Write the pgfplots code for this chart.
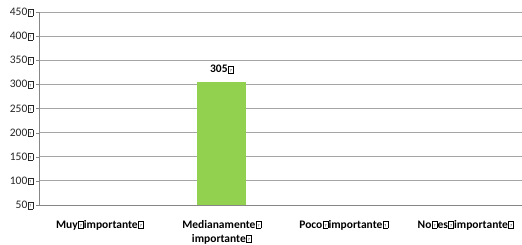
\documentclass[border=0pt]{standalone}
\usepackage{pgfplots}
\pgfplotsset{compat=1.18}
\usepackage{fontspec}
\setmainfont{Carlito}
\definecolor{bargreen}{RGB}{146,208,80}
\definecolor{gridgray}{RGB}{165,165,165}
\definecolor{axgray}{RGB}{134,134,134}
\newcommand\mg{\kern0.4pt{\fboxsep=0pt\fboxrule=0.45pt\fbox{\makebox[4.6pt]{\rule{0pt}{6.4pt}\raisebox{0.8pt}{\fontsize{4.5}{5}\selectfont\mdseries ?}}}}\kern0.2pt}
\begin{document}
\begin{tikzpicture}
\begin{axis}[name=ax,
  scale only axis, width=483pt, height=193pt,
  xmin=-0.5, xmax=3.46, ymin=50, ymax=450,
  axis x line*=bottom, axis y line*=left,
  axis line style={axgray,-},
  ytick={50,100,...,450},
  yticklabels={50\mg,100\mg,150\mg,200\mg,250\mg,300\mg,350\mg,400\mg,450\mg},
  ymajorgrids, grid style={gridgray, line width=0.9pt},
  y tick label style={font=\fontsize{11.5}{13}\selectfont, text=black!85, xshift=1pt},
  ytick style={axgray}, tick align=outside, major tick length=3pt,
  xtick={0,1,2,3},
  xticklabels={Muy\mg importante\mg, Medianamente\mg\\importante\mg, Poco\mg importante\mg, No\mg es\mg importante\mg},
  x tick label style={font=\bfseries\fontsize{11.5}{14}\selectfont, align=center, yshift=-8.5pt},
  x tick style={draw=none},
  extra x ticks={0.5,1.5,2.5}, extra x tick labels={},
  extra x tick style={grid=none, tick style={axgray, draw=axgray}, major tick length=4pt},
  clip=false,
]
\addplot[ybar, bar width=49pt, fill=bargreen, draw=none,
  nodes near coords={\pgfmathprintnumber[assume math mode=true]{\pgfplotspointmeta}\mg},
  every node near coord/.append style={font=\bfseries\fontsize{11.5}{14}\selectfont, anchor=south, yshift=5pt}]
  coordinates {(1,305)};
\end{axis}
\pgfresetboundingbox
\path ([xshift=-39pt,yshift=-39pt]ax.south west) rectangle ++(522pt,244pt);
\end{tikzpicture}
\end{document}
